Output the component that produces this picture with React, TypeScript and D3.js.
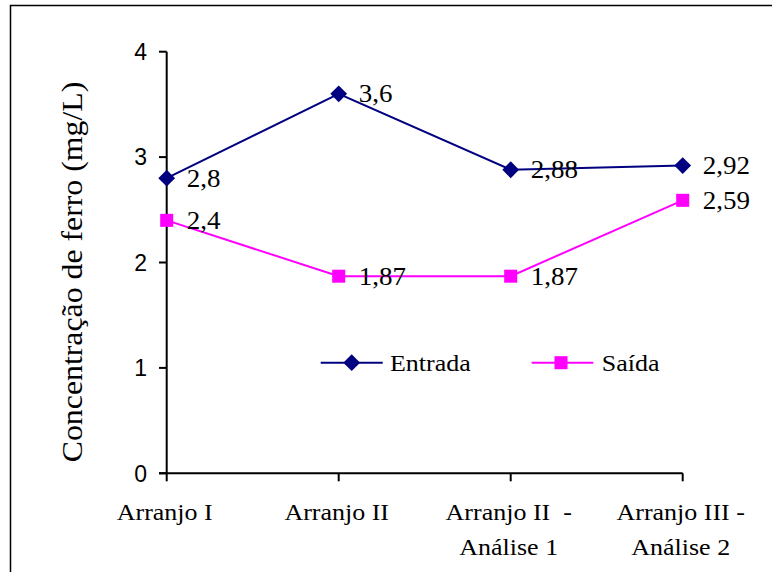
import React from "react";
import * as d3 from "d3";

const categories: string[][] = [
  ["Arranjo I"],
  ["Arranjo II"],
  ["Arranjo II  -", "Análise 1"],
  ["Arranjo III -", "Análise 2"],
];
const entrada = [2.8, 3.6, 2.88, 2.92];
const saida = [2.4, 1.87, 1.87, 2.59];
const entradaLabels = ["2,8", "3,6", "2,88", "2,92"];
const saidaLabels = ["2,4", "1,87", "1,87", "2,59"];
const yTicks = [0, 1, 2, 3, 4];

const W = 772;
const H = 572;
const serif: React.CSSProperties = { fontFamily: '"Liberation Serif", "Times New Roman", serif' };
const sans: React.CSSProperties = { fontFamily: '"Liberation Sans", Arial, sans-serif' };
const NAVY = "#000080";
const MAGENTA = "#FF00FF";

export default function App() {
  const idx = categories.map((_, i) => String(i));
  const x = d3.scalePoint<string>().domain(idx).range([166.7, 682.7]);
  const y = d3.scaleLinear().domain([0, 4]).range([473.3, 51.7]);
  const line = d3
    .line<number>()
    .x((_, i) => x(String(i)) as number)
    .y((d) => y(d));
  const diamond = d3.symbol().type(d3.symbolDiamond2).size(180)();
  const square = d3.symbol().type(d3.symbolSquare).size(170)();
  const sx = 1.13;

  return (
    <svg
      width={W}
      height={H}
      style={{ position: "absolute", left: 0, top: 0, background: "#fff" }}
    >
      <rect x={10.5} y={5.5} width={W + 20} height={H + 20} fill="#fff" stroke="#000" strokeWidth={1.5} />

      {/* y axis */}
      <line x1={166.7} x2={166.7} y1={y(4)} y2={y(0)} stroke="#000" strokeWidth={2} />
      {yTicks.map((t) => (
        <g key={t}>
          <line x1={159} x2={166.7} y1={y(t)} y2={y(t)} stroke="#000" strokeWidth={2} />
          <text
            x={147}
            y={y(t)}
            dy="0.36em"
            textAnchor="end"
            style={{ ...sans, fontSize: "23px" }}
            fill="#000"
          >
            {t}
          </text>
        </g>
      ))}

      {/* x axis */}
      <line x1={159} x2={682.7} y1={y(0)} y2={y(0)} stroke="#000" strokeWidth={2} />
      {categories.map((c, i) => {
        const cx = x(String(i)) as number;
        return (
          <g key={i}>
            <line x1={cx} x2={cx} y1={y(0)} y2={y(0) + 8} stroke="#000" strokeWidth={2} />
            {c.map((ln, j) => (
              <text
                key={j}
                transform={`translate(${cx - 2},${520 + j * 35}) scale(${sx},1)`}
                textAnchor="middle"
                style={{ ...serif, fontSize: "23px", whiteSpace: "pre" }}
                fill="#000"
              >
                {ln}
              </text>
            ))}
          </g>
        );
      })}

      {/* y title */}
      <text
        transform={`translate(82,272) rotate(-90) scale(1.06,1)`}
        textAnchor="middle"
        style={{ ...serif, fontSize: "30px" }}
        fill="#000"
      >
        Concentração de ferro (mg/L)
      </text>

      {/* series */}
      <path d={line(saida) || ""} fill="none" stroke={MAGENTA} strokeWidth={2} />
      <path d={line(entrada) || ""} fill="none" stroke={NAVY} strokeWidth={2} />
      {saida.map((v, i) => (
        <path key={"s" + i} d={square || ""} transform={`translate(${x(String(i))},${y(v)})`} fill={MAGENTA} />
      ))}
      {entrada.map((v, i) => (
        <path key={"e" + i} d={diamond || ""} transform={`translate(${x(String(i))},${y(v)})`} fill={NAVY} />
      ))}
      {entrada.map((v, i) => (
        <text
          key={"el" + i}
          transform={`translate(${(x(String(i)) as number) + 20},${y(v) + 8.5}) scale(1.08,1)`}
          style={{ ...serif, fontSize: "25px" }}
          fill="#000"
        >
          {entradaLabels[i]}
        </text>
      ))}
      {saida.map((v, i) => (
        <text
          key={"sl" + i}
          transform={`translate(${(x(String(i)) as number) + 20},${y(v) + 8.5}) scale(1.08,1)`}
          style={{ ...serif, fontSize: "25px" }}
          fill="#000"
        >
          {saidaLabels[i]}
        </text>
      ))}

      {/* legend */}
      <line x1={320.7} x2={382.7} y1={362.7} y2={362.7} stroke={NAVY} strokeWidth={2} />
      <path d={diamond || ""} transform="translate(351.7,362.7)" fill={NAVY} />
      <text transform="translate(390,370.7) scale(1.13,1)" style={{ ...serif, fontSize: "23px" }} fill="#000">
        Entrada
      </text>
      <line x1={531.7} x2={593.3} y1={362.7} y2={362.7} stroke={MAGENTA} strokeWidth={2} />
      <path d={square || ""} transform="translate(561,362.7)" fill={MAGENTA} />
      <text transform="translate(601.7,370.7) scale(1.13,1)" style={{ ...serif, fontSize: "23px" }} fill="#000">
        Saída
      </text>
    </svg>
  );
}
